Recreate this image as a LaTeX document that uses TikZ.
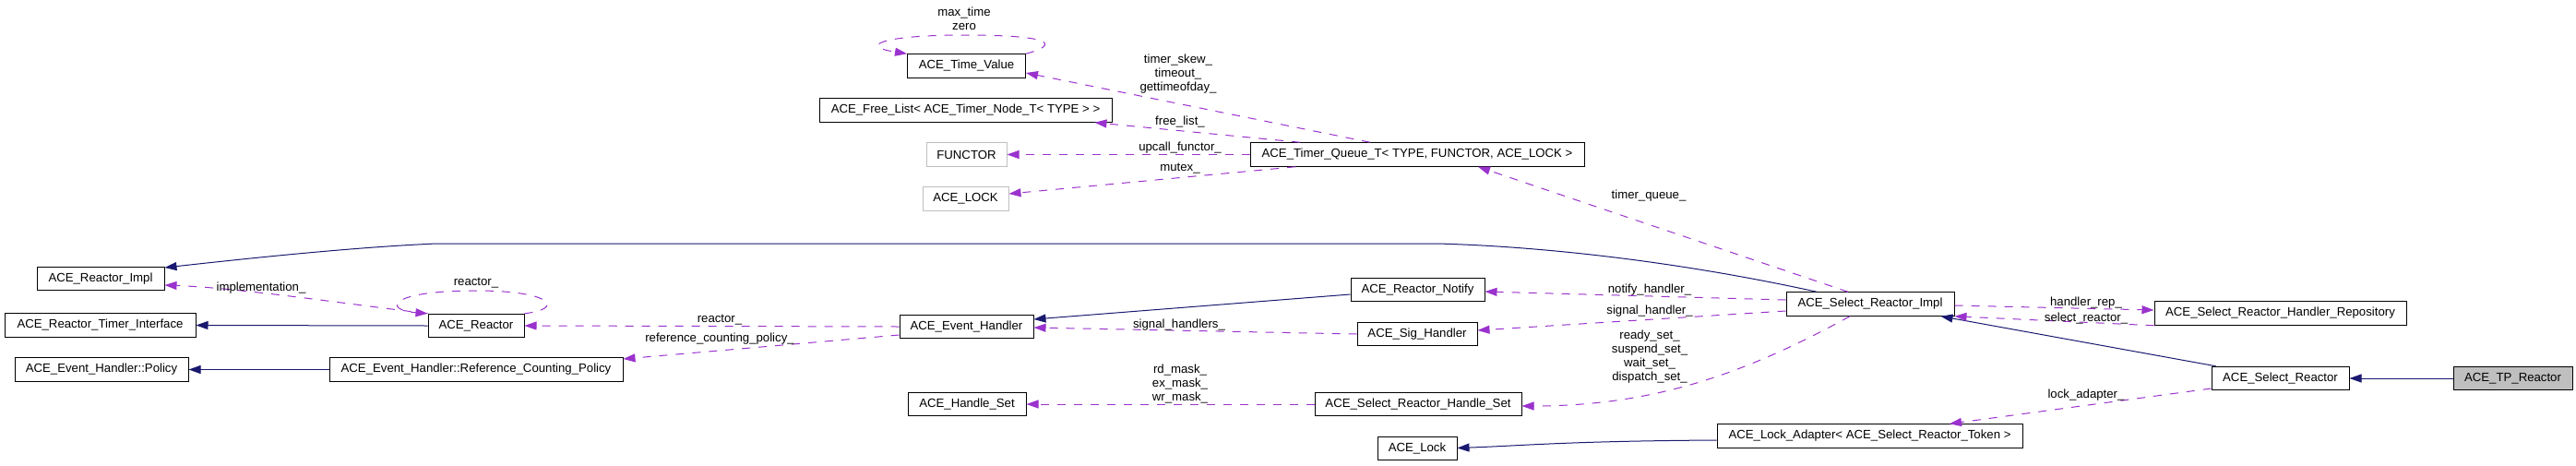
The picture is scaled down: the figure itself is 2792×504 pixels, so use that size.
\documentclass[tikz,border=0pt]{standalone}
\usepackage{fontspec}
\setmainfont{Liberation Sans}
\usetikzlibrary{arrows.meta,calc}
\definecolor{inh}{RGB}{25,25,112}
\definecolor{use}{RGB}{154,50,205}
\definecolor{grayb}{RGB}{191,191,191}
\begin{document}
\begin{tikzpicture}[x=1pt,y=-1pt,
 every node/.style={font=\fontsize{13.2}{15}\selectfont},
 cls/.style={draw=black, line width=1pt, minimum height=25.5pt, inner sep=0pt, anchor=center},
 ext/.style={cls, draw=grayb},
 cur/.style={cls, fill=grayb},
 lbl/.style={align=center, inner sep=0pt},
 inhe/.style={draw=inh, line width=1pt, -{Triangle[length=13pt,width=9pt]}},
 usee/.style={draw=use, line width=1pt, dash pattern=on 9pt off 9pt, -{Triangle[length=13pt,width=9pt]}},
]
\useasboundingbox (0,0) rectangle (2792,504);
\fill[white] (0,0) rectangle (2792,504);

% classes
\node[cls, minimum width=128] (tv) at (1047.5,71.5) {ACE\_Time\_Value};
\node[cls, minimum width=317] (fl) at (1046.5,119.5) {ACE\_Free\_List< ACE\_Timer\_Node\_T< TYPE > >};
\node[ext, minimum width=87] (fn) at (1047.5,167.5) {FUNCTOR};
\node[ext, minimum width=93] (lk) at (1046.5,215.5) {ACE\_LOCK};
\node[cls, minimum width=362] (tq) at (1536,167.5) {ACE\_Timer\_Queue\_T< TYPE, FUNCTOR, ACE\_LOCK >};
\node[cls, minimum width=138] (ri) at (109,302) {ACE\_Reactor\_Impl};
\node[cls, minimum width=207] (rti) at (108.5,352.5) {ACE\_Reactor\_Timer\_Interface};
\node[cls, minimum width=188] (pol) at (110,400.5) {ACE\_Event\_Handler::Policy};
\node[cls, minimum width=104] (re) at (516,353) {ACE\_Reactor};
\node[cls, minimum width=318] (rcp) at (516,400.5) {ACE\_Event\_Handler::Reference\_Counting\_Policy};
\node[cls, minimum width=145] (eh) at (1047.5,354) {ACE\_Event\_Handler};
\node[cls, minimum width=128] (hs) at (1048,438) {ACE\_Handle\_Set};
\node[cls, minimum width=145] (rn) at (1536.5,314) {ACE\_Reactor\_Notify};
\node[cls, minimum width=130] (sh) at (1536,362) {ACE\_Sig\_Handler};
\node[cls, minimum width=224] (srhs) at (1537,438) {ACE\_Select\_Reactor\_Handle\_Set};
\node[cls, minimum width=86] (lock) at (1536,486) {ACE\_Lock};
\node[cls, minimum width=182] (sri) at (2027,329.5) {ACE\_Select\_Reactor\_Impl};
\node[cls, minimum width=331] (la) at (2026.5,472.5) {ACE\_Lock\_Adapter< ACE\_Select\_Reactor\_Token >};
\node[cls, minimum width=273] (rep) at (2471.5,339.5) {ACE\_Select\_Reactor\_Handler\_Repository};
\node[cls, minimum width=149] (sr) at (2471.5,410) {ACE\_Select\_Reactor};
\node[cur, minimum width=129] (tp) at (2723.5,410) {ACE\_TP\_Reactor};

% inheritance
\draw[inhe] ([xshift=-58]sri.north) .. controls (1850,290) and (1700,268) .. (1558,264) -- (473,264) .. controls (380,268) and (260,281) .. ([yshift=12]ri.east);
\draw[inhe] (re.west) -- (rti.east);
\draw[inhe] (rcp.west) -- (pol.east);
\draw[inhe] ([yshift=-5]rn.west) -- ([yshift=8]eh.east);
\draw[inhe] ([xshift=5]sr.north west) -- ([xshift=-15]sri.south east);
\draw[inhe] (tp.west) -- (sr.east);
\draw[inhe] ([yshift=-4.5]la.west) .. controls (1700,478) and (1650,483) .. ([yshift=0.5]lock.east);

% usage
\draw[usee] (tv.north east) .. controls (1150,48) and (1140,38) .. (1045,38) .. controls (955,38) and (930,50) .. (tv.north west);
\node[lbl] (lmt) at (1045,20.5) {max\_time\\zero};
\draw[usee] ([xshift=-51]tq.north) -- ([yshift=-7.5]tv.east);
\node[lbl] (lts) at (1277,80) {timer\_skew\_\\timeout\_\\gettimeofday\_};
\draw[usee] ([xshift=-127]tq.north) -- ([xshift=-19]fl.south east);
\node[lbl] (lfl) at (1279,132) {free\_list\_};
\draw[usee] (tq.west) -- (fn.east);
\node[lbl] (luf) at (1279,160) {upcall\_functor\_};
\draw[usee] ([xshift=-132]tq.south) -- ([yshift=5.5]lk.east);
\node[lbl] (lmx) at (1279,183) {mutex\_};
\draw[usee] ([xshift=-24]sri.north) -- ([xshift=66]tq.south);
\node[lbl] (ltq) at (1787,212) {timer\_queue\_};

\draw[usee] (re.north east) .. controls (612,335) and (600,315) .. (516,315) .. controls (420,315) and (415,336) .. (re.north west);
\node[lbl] (lre) at (516,307) {reactor\_};
\draw[usee] (re.north west) .. controls (380,330) and (260,312) .. ([yshift=-7]ri.east);
\node[lbl] (lim) at (283,312) {implementation\_};
\draw[usee] (eh.west) -- (re.east);
\node[lbl] (lr2) at (780,347) {reactor\_};
\draw[usee] ([yshift=-9]eh.west) -- ([yshift=11.5]rcp.east);
\node[lbl] (lrcp) at (780,367) {reference\_counting\_policy\_};
\draw[usee] (sh.west) -- ([yshift=-1]eh.east);
\node[lbl] (lsh) at (1278,352) {signal\_handlers\_};
\draw[usee] (srhs.west) -- (hs.east);
\node[lbl] (lmask) at (1279,416) {rd\_mask\_\\ex\_mask\_\\wr\_mask\_};
\draw[usee] ([yshift=4.5]sri.west) -- ([yshift=-2]rn.east);
\node[lbl] (lnh) at (1788,314) {notify\_handler\_};
\draw[usee] ([yshift=-7.5]sri.west) -- ([yshift=4]sh.east);
\node[lbl] (lsgh) at (1788,337) {signal\_handler\_};
\draw[usee] ([xshift=-22]sri.south) .. controls (1900,400) and (1800,440) .. ([yshift=-2]srhs.east);
\node[lbl] (lsets) at (1788,387) {ready\_set\_\\suspend\_set\_\\wait\_set\_\\dispatch\_set\_};
\draw[usee] ([yshift=-1.5]sri.east) -- ([yshift=3.5]rep.west);
\node[lbl] (lhr) at (2261,328) {handler\_rep\_};
\draw[usee] (rep.south west) -- (sri.south east);
\node[lbl] (lsr) at (2261,345) {select\_reactor\_};
\draw[usee] ([yshift=-11]sr.west) -- ([xshift=86.5]la.north);
\node[lbl] (lla) at (2261,428) {lock\_adapter\_};
\end{tikzpicture}
\end{document}
